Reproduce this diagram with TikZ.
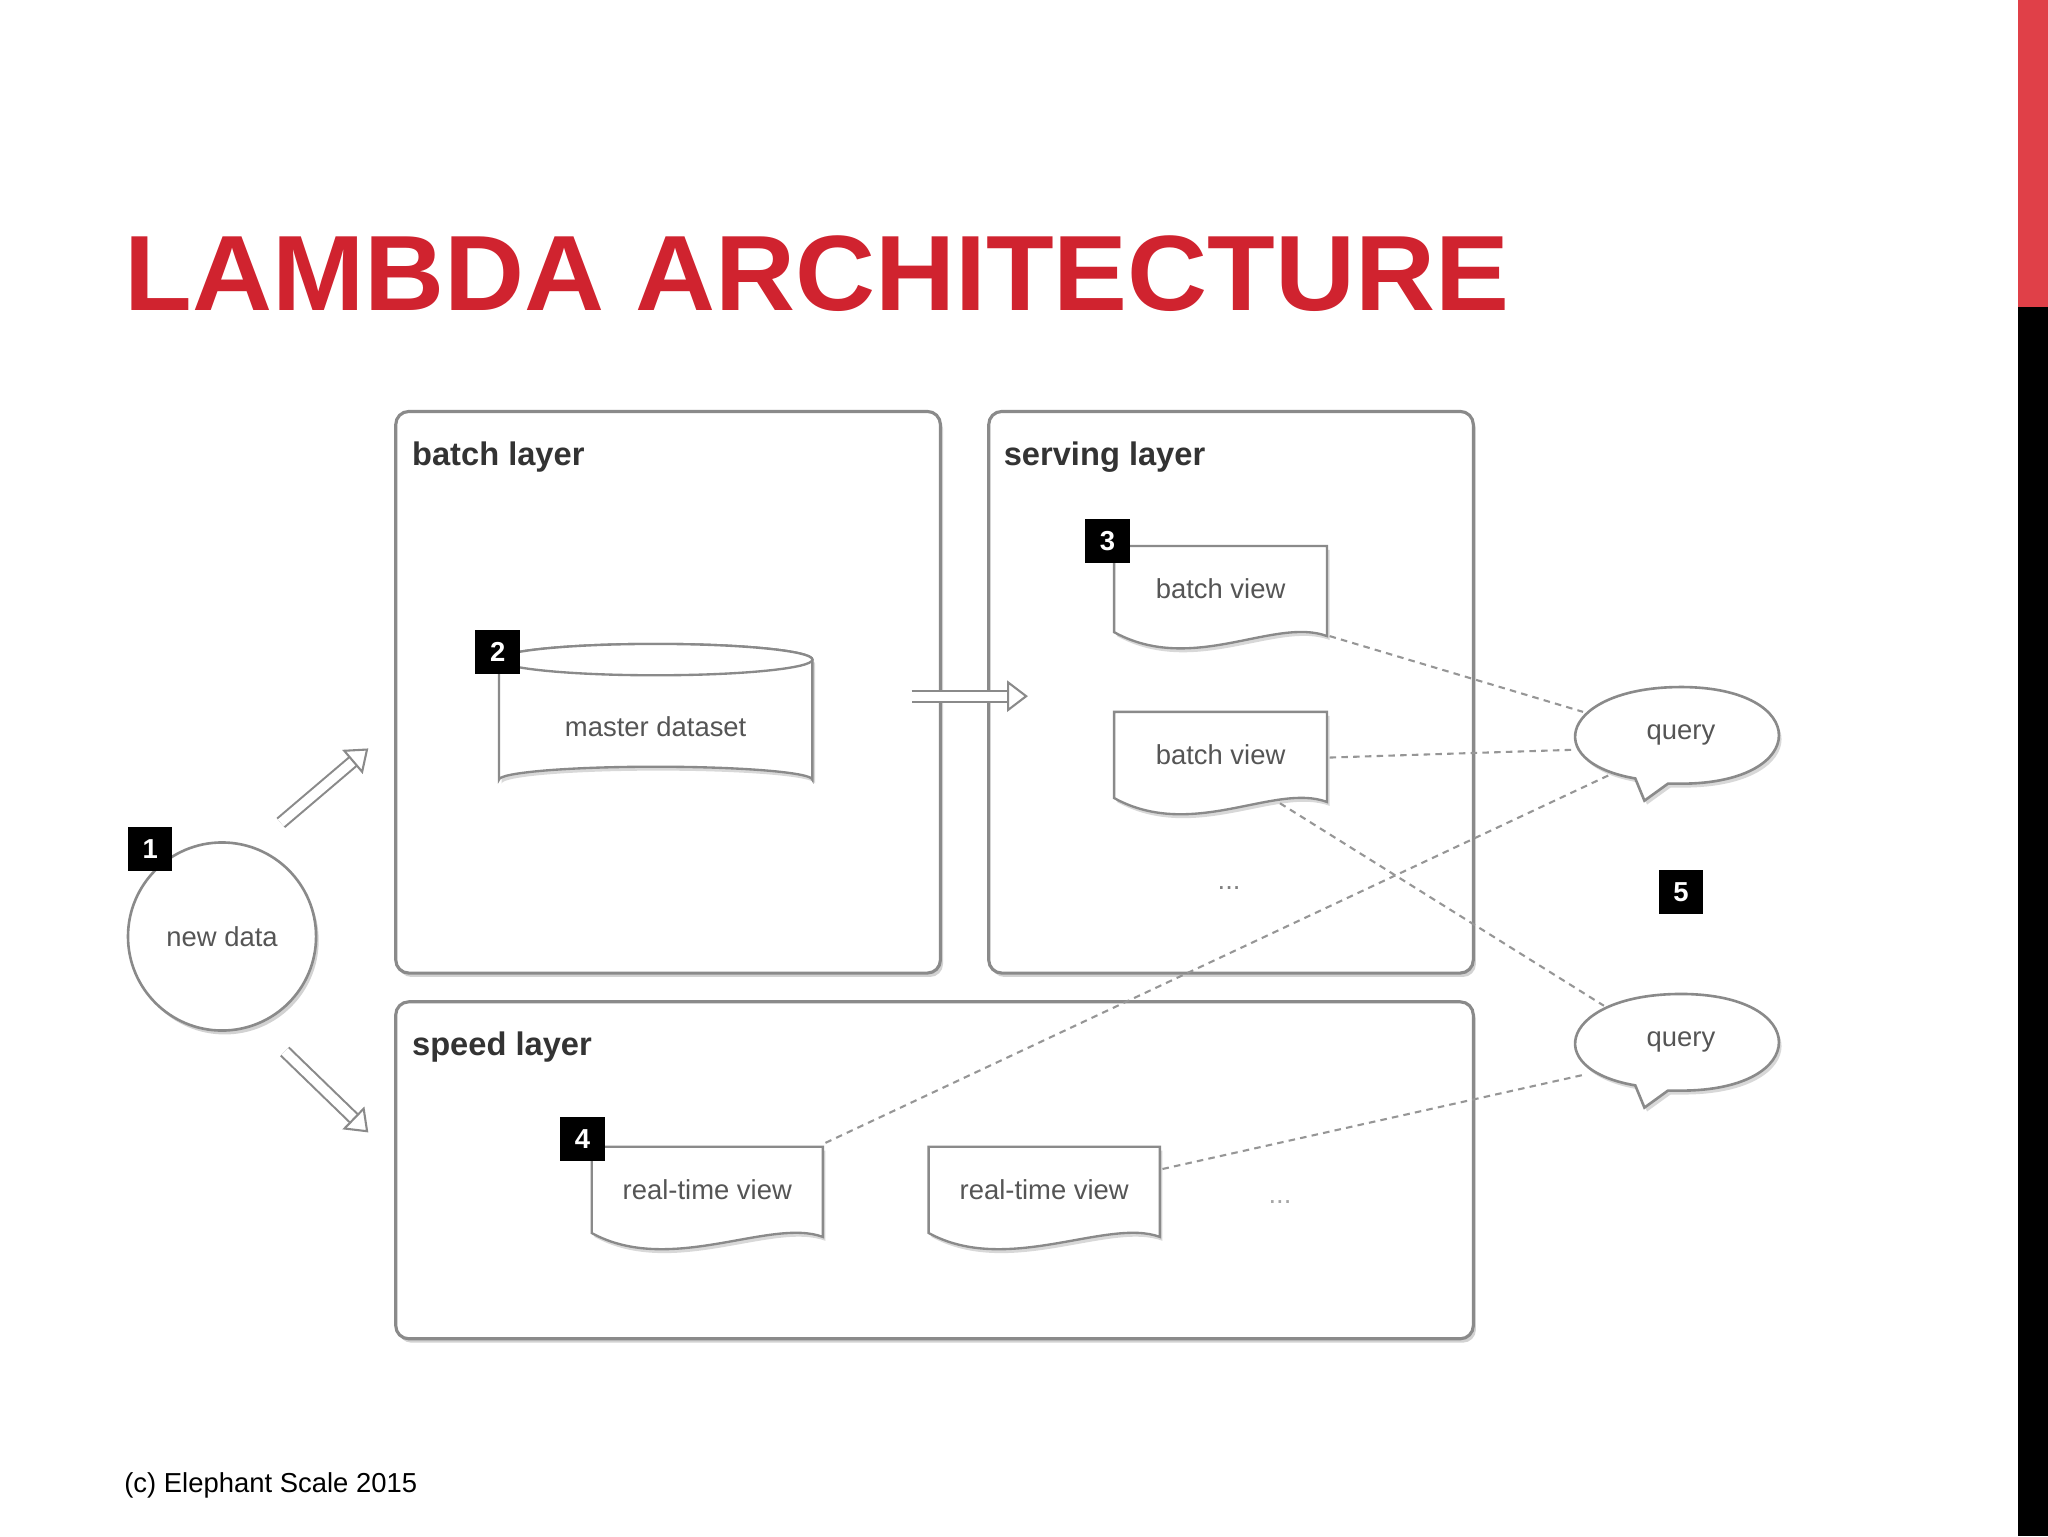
\documentclass[tikz,border=0pt]{standalone}
\usepackage{fontspec}
\setmainfont{Liberation Sans}
\usetikzlibrary{shapes.geometric,shadows,arrows.meta}
\definecolor{titlered}{HTML}{D0232F}
\definecolor{barred}{HTML}{E04048}
\definecolor{edge}{HTML}{8A8A8A}
\definecolor{txt}{HTML}{555555}
\begin{document}
\begin{tikzpicture}[x=1pt,y=-1pt,
  layer/.style={draw=edge,line width=2.4pt,rounded corners=10pt,fill=white,drop shadow={shadow xshift=2pt,shadow yshift=-3pt,opacity=.35}},
  lbl/.style={anchor=west,font=\bfseries\fontsize{25}{30}\selectfont,text=black!80},
  small/.style={font=\fontsize{21}{24}\selectfont,text=txt},
  badge/.style={fill=black,text=white,minimum size=34pt,inner sep=0pt,font=\bfseries\fontsize{21}{24}\selectfont},
  doc/.style={draw=edge,line width=1.8pt,fill=white},
  hollow/.style={draw=edge,line width=1.6pt,double=white,double distance=7pt,-{Triangle[open,length=16pt,width=24pt,fill=white]}},
  dashconn/.style={draw=edge!90,line width=1.6pt,dash pattern=on 5pt off 4pt}]
\useasboundingbox (0,0) rectangle (1568,1176);
\fill[white] (0,0) rectangle (1568,1176);
\fill[barred] (1545,0) rectangle (1568,235);
\fill[black] (1545,235) rectangle (1568,1176);
\node[anchor=base west,inner sep=0,text=titlered,font=\bfseries\fontsize{82}{90}\selectfont,xscale=1.035] (title) at (95,238) {LAMBDA ARCHITECTURE};
\node[anchor=base west,inner sep=0,font=\fontsize{21}{24}\selectfont] (foot) at (95,1143) {(c) Elephant Scale 2015};
% layers
\draw[layer] (303,315) rectangle (720,745);
\draw[layer] (757,315) rectangle (1128,745);
\draw[layer] (303,767) rectangle (1128,1025);
\node[lbl] (bl) at (312,350) {batch layer};
\node[lbl] (sl) at (765,350) {serving layer};
\node[lbl] (spl) at (312,802) {speed layer};
% new data
\node[circle,draw=edge,line width=2pt,fill=white,minimum size=144pt,small,drop shadow={shadow xshift=2pt,shadow yshift=-3pt,opacity=.35}] (nd) at (170,717) {new data};
\node[badge] (b1) at (115,650) {1};
\coordinate (a1s) at (215,630); \coordinate (a1e) at (282,573);
\coordinate (a2s) at (218,805); \coordinate (a2e) at (282,867);
\coordinate (a3s) at (698,533); \coordinate (a3e) at (787,533);
\draw[hollow] (a1s) -- (a1e);
\draw[hollow] (a2s) -- (a2e);
\draw[hollow] (a3s) -- (a3e);
% master dataset cylinder
\draw[doc,fill=white,drop shadow={shadow xshift=2pt,shadow yshift=-3pt,opacity=.3}] (382,505) -- (382,597) arc[start angle=180,end angle=360,x radius=120,y radius=10] -- (622,505) arc[start angle=0,end angle=-180,x radius=120,y radius=12] -- cycle;
\draw[doc,fill=white] (502,505) ellipse[x radius=120,y radius=12];
\node[small] (md) at (502,556) {master dataset};
\node[badge] (b2) at (381,499) {2};
% documents
\newcommand\mydoc[5]{%
  \draw[doc,drop shadow={shadow xshift=2pt,shadow yshift=-3pt,opacity=.3}] (#1,#2) -- (#3,#2) -- (#3,#4-5) .. controls (#3-40,#4-20) and (#1+60,#4+25) .. (#1,#4-8) -- cycle;
  \node[small] (#5) at ({(#1+#3)/2},{(#2+#4)/2-4}) {\csname doctext\endcsname};}
\def\doctext{batch view}
\mydoc{853}{418}{1016}{492}{bv1}
\mydoc{853}{545}{1016}{619}{bv2}
\def\doctext{real-time view}
\mydoc{453}{878}{630}{952}{rt1}
\mydoc{711}{878}{888}{952}{rt2}
\node[badge] (b3) at (848,414) {3};
\node[badge] (b4) at (446,872) {4};
\node[small,text=gray] (dots1) at (941,680) {...};
\node[small,text=gray!70] (dots2) at (980,920) {...};
% queries
\newcommand\query[3]{%
  \draw[doc,line width=2pt,drop shadow={shadow xshift=2pt,shadow yshift=-3pt,opacity=.3}] (#1-35,#2+33) .. controls (#1-110,#2+20) and (#1-90,#2-37) .. (#1,#2-37) .. controls (#1+100,#2-37) and (#1+100,#2+37) .. (#1,#2+37) -- (#1-10,#2+37) -- (#1-28,#2+50) -- cycle;
  \node[small] (#3) at (#1,#2) {query};}
\query{1287}{563}{q1}
\query{1287}{798}{q2}
\node[badge] (b5) at (1287,683) {5};
% dashed connectors
\coordinate (q1a) at (1212,545); \coordinate (q1b) at (1206,574); \coordinate (q1c) at (1235,592);
\coordinate (q2a) at (1228,770); \coordinate (q2b) at (1212,823);
\coordinate (bv1e) at (1018,487); \coordinate (bv2e) at (1018,580); \coordinate (bv2b) at (980,615);
\coordinate (rt1e) at (632,875); \coordinate (rt2e) at (890,895);
\draw[dashconn] (bv1e) -- (q1a);
\draw[dashconn] (bv2e) -- (q1b);
\draw[dashconn] (bv2b) -- (q2a);
\draw[dashconn] (rt1e) -- (q1c);
\draw[dashconn] (rt2e) -- (q2b);
\end{tikzpicture}
\end{document}
